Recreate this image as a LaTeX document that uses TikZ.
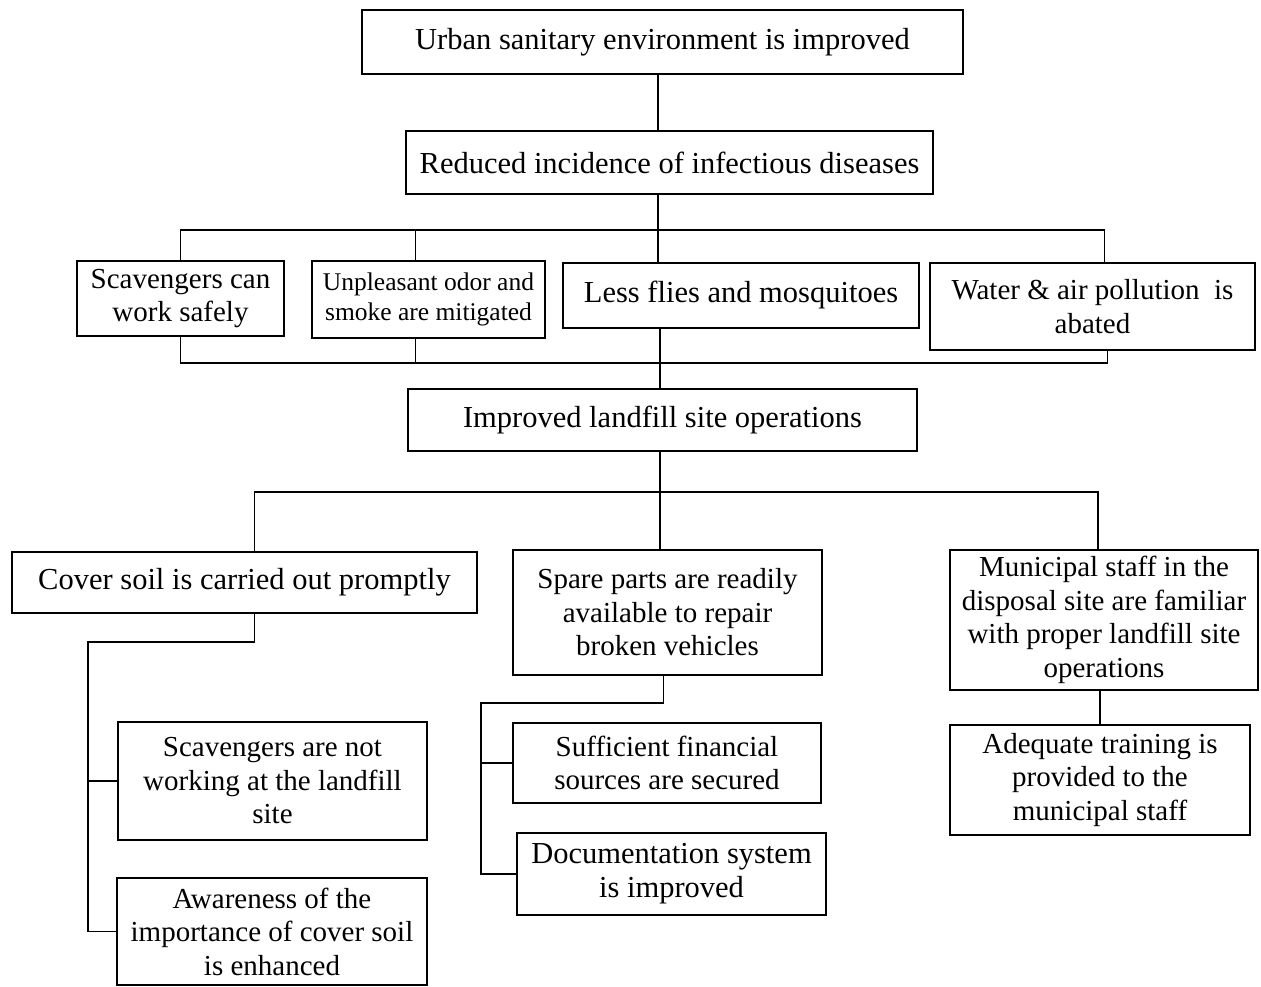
\documentclass[tikz,border=0pt]{standalone}
\usepackage{fontspec}
\setmainfont{Liberation Serif}
\usepackage{tikz}
\usetikzlibrary{positioning,calc}

\begin{document}
\begin{tikzpicture}[x=1pt,y=-1pt,
  box/.style={draw,line width=1.4pt,align=center,inner sep=0pt,font=\fontsize{29}{33.5}\selectfont},
  wide/.style={box,font=\fontsize{30.5}{34}\selectfont},
  small/.style={box,font=\fontsize{25.5}{30}\selectfont},
  main/.style={wide,line width=2.8pt},
  link/.style={line width=1.2pt}]
  \useasboundingbox (0,0) rectangle (1261,987);
  % goal and purpose
  \node[wide,minimum width=601pt,minimum height=64pt] (U) at (662.5,42) {Urban sanitary environment is improved};
  \node[wide,minimum width=527pt,minimum height=63pt] (R) at (669.5,162.5) {Reduced incidence of infectious diseases};
  % outputs of the landfill work
  \node[box,minimum width=207pt,minimum height=75pt] (S1) at (180.5,298.5) {Scavengers can\\work safely};
  \node[small,minimum width=233pt,minimum height=77pt] (S2) at (428.5,299.5) {Unpleasant odor and\\smoke are mitigated};
  \node[wide,minimum width=356pt,minimum height=65pt] (S3) at (741,295.5) {Less flies and mosquitoes};
  \node[box,minimum width=325pt,minimum height=87pt] (S4) at (1092.5,306.5) {Water \& air pollution\ \ is\\abated};
  \node[main,minimum width=509pt,minimum height=62pt] (I) at (662.5,420) {Improved landfill site operations};
  % activities
  \node[wide,minimum width=465pt,minimum height=61pt] (C1) at (244.5,582.5) {Cover soil is carried out promptly};
  \node[box,minimum width=309pt,minimum height=125pt] (C2) at (667.5,612.5) {Spare parts are readily\\available to repair\\broken vehicles};
  \node[box,minimum width=308pt,minimum height=140pt] (C3) at (1104,620) {Municipal staff in the\\disposal site are familiar\\with proper landfill site\\operations};
  \node[box,minimum width=309pt,minimum height=118pt] (S5) at (272.5,781) {Scavengers are not\\working at the landfill\\site};
  \node[box,minimum width=310pt,minimum height=107pt] (Aw) at (272,931.5) {Awareness of the\\importance of cover soil\\is enhanced};
  \node[box,minimum width=308pt,minimum height=80pt] (Suf) at (667,763) {Sufficient financial\\sources are secured};
  \node[wide,minimum width=309pt,minimum height=82pt] (Doc) at (671.5,874) {Documentation system\\is improved};
  \node[box,minimum width=300pt,minimum height=110pt] (Ad) at (1100,780) {Adequate training is\\provided to the\\municipal staff};
  % bus points
  \coordinate (bt) at (658,230);
  \coordinate (bb) at (660,363);
  \coordinate (bl) at (660,492);
  \coordinate (k1) at (88,642);
  \coordinate (k2) at (481,703);
  % connectors
  \draw[link] (U.south -| bt) -- (R.north -| bt);
  \draw[link] (R.south -| bt) -- (bt |- S3.north);
  \draw[link] (S1.north) |- (bt) -| ([xshift=12pt]S4.north);
  \draw[link] ([xshift=-13pt]S2.north) -- ([xshift=-13pt]S2.north |- bt);
  \draw[link] (S1.south) |- (bb) -| ([xshift=15pt]S4.south);
  \draw[link] ([xshift=-13pt]S2.south) -- ([xshift=-13pt]S2.south |- bb);
  \draw[link] (bb |- S3.south) -- (bb |- I.north);
  \draw[link] (I.south -| bl) -- (bl |- C2.north);
  \draw[link] ([xshift=10pt]C1.north) |- (bl) -| ([xshift=-6pt]C3.north);
  \draw[link] ([xshift=10pt]C1.south) |- (k1) |- (Aw.west);
  \draw[link] (k1 |- S5.west) -- (S5.west);
  \draw[link] ([xshift=-4pt]C2.south) |- (k2) |- (Doc.west);
  \draw[link] (k2 |- Suf.west) -- (Suf.west);
  \draw[link] (C3.south -| Ad.north) -- (Ad.north);
\end{tikzpicture}
\end{document}
